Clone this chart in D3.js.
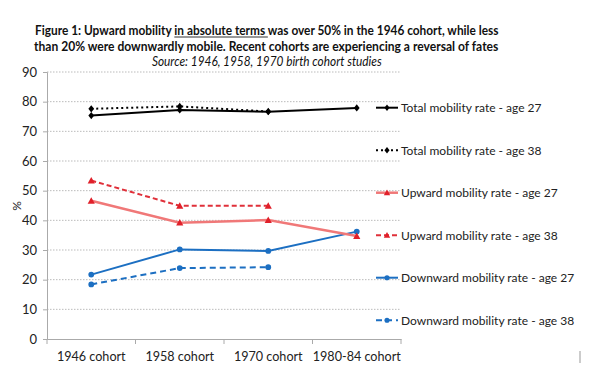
<!DOCTYPE html>
<html><head><meta charset="utf-8">
<script src="https://cdn.jsdelivr.net/npm/d3@7"></script>
<style>body{margin:0;background:#fff}svg{display:block}text{font-family:Lato,"Open Sans",sans-serif}</style>
</head><body>
<svg id="c" width="592" height="382"></svg>
<script>
const categories = ["1946 cohort","1958 cohort","1970 cohort","1980-84 cohort"];
const yTicks = [0,10,20,30,40,50,60,70,80,90];
const totalAge27 = [75.3,77.2,76.6,77.9];
const totalAge38 = [77.6,78.4,76.7,null];
const upwardAge27 = [46.6,39.2,40.1,34.7];
const upwardAge38 = [53.4,44.9,44.9,null];
const downwardAge27 = [21.7,30.2,29.7,36.2];
const downwardAge38 = [18.4,23.9,24.2,null];
const seriesNames = ["Total mobility rate - age 27","Total mobility rate - age 38","Upward mobility rate - age 27","Upward mobility rate - age 38","Downward mobility rate - age 27","Downward mobility rate - age 38"];
const titleLines = ["Figure 1: Upward mobility in absolute terms was over 50% in the 1946 cohort, while less",
  "than 20% were downwardly mobile. Recent cohorts are experiencing a reversal of fates"];
const underlined = "in absolute terms ";
const subtitle = "Source: 1946, 1958, 1970 birth cohort studies";

const styles = [
  {data: totalAge27, line:"#000", marker:"#000", dash:null, w:2, shape:"diamond"},
  {data: totalAge38, line:"#000", marker:"#000", dash:"2,3", w:2, shape:"diamond"},
  {data: upwardAge27, line:"#f07878", marker:"#e0202a", dash:null, w:2.5, shape:"triangle"},
  {data: upwardAge38, line:"#e0303a", marker:"#e0202a", dash:"5,3", w:2, shape:"triangle"},
  {data: downwardAge27, line:"#1c6fc2", marker:"#1c6fc2", dash:null, w:2, shape:"circle"},
  {data: downwardAge38, line:"#1c6fc2", marker:"#1c6fc2", dash:"6,4", w:2, shape:"circle"}
];

const svg = d3.select("#c");
const L=47, R=401, T=72, B=339;
const x = d3.scaleBand().domain(categories).range([L,R]);
const y = d3.scaleLinear().domain([0,90]).range([B,T]);

// title (scaled horizontally to fit the reference width)
function fitted(str, x0, y0, width, size, weight, style){
  const g = svg.append("g");
  const t = g.append("text").attr("font-size",size).attr("font-weight",weight).attr("font-style",style).attr("fill","#111").text(str);
  const w = t.node().getComputedTextLength();
  g.attr("transform",`translate(${x0},${y0}) scale(${width/w},1)`);
  return {g, t};
}
const t1 = fitted(titleLines[0], 35, 35, 464, 13, "bold", "normal");
{
  const idx = titleLines[0].indexOf(underlined);
  const node = t1.t.node();
  const s0 = node.getSubStringLength(0, idx);
  const len = node.getSubStringLength(idx, underlined.length);
  t1.g.append("line").attr("x1",s0).attr("x2",s0+len).attr("y1",2).attr("y2",2).attr("stroke","#111").attr("stroke-width",0.9);
}
fitted(titleLines[1], 34, 50.5, 465, 13, "bold", "normal");
fitted(subtitle, 152, 65.5, 230, 12.5, "normal", "italic");

// gridlines
svg.append("g").selectAll("line").data(yTicks.filter(d=>d>0)).join("line")
  .attr("x1",L).attr("x2",R).attr("y1",d=>y(d)).attr("y2",d=>y(d))
  .attr("stroke","#bbb").attr("stroke-dasharray","1.5,1.5").attr("stroke-width",1);

// y axis
const ya = svg.append("g").attr("transform",`translate(${L},0)`).call(d3.axisLeft(y).tickValues(yTicks).tickSize(4).tickPadding(6));
ya.select(".domain").attr("stroke","#aaa");
ya.selectAll(".tick line").attr("stroke","#aaa");
ya.selectAll("text").attr("font-size",13).attr("fill","#222").attr("font-family","Lato,sans-serif");

// x axis
const xa = svg.append("g").attr("transform",`translate(0,${B})`).call(d3.axisBottom(x).tickSize(0).tickPadding(13));
xa.select(".domain").attr("stroke","#aaa");
xa.selectAll("text").attr("font-size",12.6).attr("fill","#222").attr("font-family","Lato,sans-serif");
const bounds = categories.map(c=>x(c)+x.bandwidth());
svg.append("g").selectAll("line").data(bounds).join("line")
  .attr("x1",d=>d).attr("x2",d=>d).attr("y1",B).attr("y2",B+5).attr("stroke","#aaa");
svg.append("line").attr("x1",L).attr("x2",L).attr("y1",B).attr("y2",B+5).attr("stroke","#aaa");

// % label
svg.append("text").attr("transform","translate(21,206) rotate(-90)").attr("text-anchor","middle").attr("font-size",12).attr("fill","#222").text("%");

function marker(g, shape, cx, cy, color, s){
  if(shape==="diamond") g.append("path").attr("d",`M${cx},${cy-s}L${cx+s*0.8},${cy}L${cx},${cy+s}L${cx-s*0.8},${cy}Z`).attr("fill",color);
  else if(shape==="triangle") g.append("path").attr("d",`M${cx},${cy-s}L${cx+s},${cy+s*0.8}L${cx-s},${cy+s*0.8}Z`).attr("fill",color);
  else g.append("circle").attr("cx",cx).attr("cy",cy).attr("r",s*0.8).attr("fill",color);
}

const cx = c=>x(c)+x.bandwidth()/2;
const order = [4,5,2,3,1,0];
order.forEach(i=>{
  const s = styles[i];
  const pts = categories.map((c,j)=>({c,v:s.data[j]})).filter(p=>p.v!==null);
  const line = d3.line().x(p=>cx(p.c)).y(p=>y(p.v));
  svg.append("path").datum(pts).attr("d",line).attr("fill","none").attr("stroke",s.line)
    .attr("stroke-width",s.w).attr("stroke-dasharray",s.dash);
  const g = svg.append("g");
  pts.forEach(p=>marker(g,s.shape,cx(p.c),y(p.v),s.marker,3.6));
});

// legend
const lg = svg.append("g");
seriesNames.forEach((n,i)=>{
  const s = styles[i];
  const ly = 107.7 + i*42.5;
  lg.append("line").attr("x1",376).attr("x2",398).attr("y1",ly).attr("y2",ly).attr("stroke",s.line).attr("stroke-width",s.w)
    .attr("stroke-dasharray",s.dash);
  marker(lg,s.shape,387,ly,s.marker,3.2);
  lg.append("text").attr("x",401).attr("y",ly+4.5).attr("font-size",12).attr("fill","#222").text(n);
});

// stray mark
svg.append("line").attr("x1",580).attr("x2",580).attr("y1",351).attr("y2",363).attr("stroke","#999").attr("stroke-width",1);
</script>
</body></html>
